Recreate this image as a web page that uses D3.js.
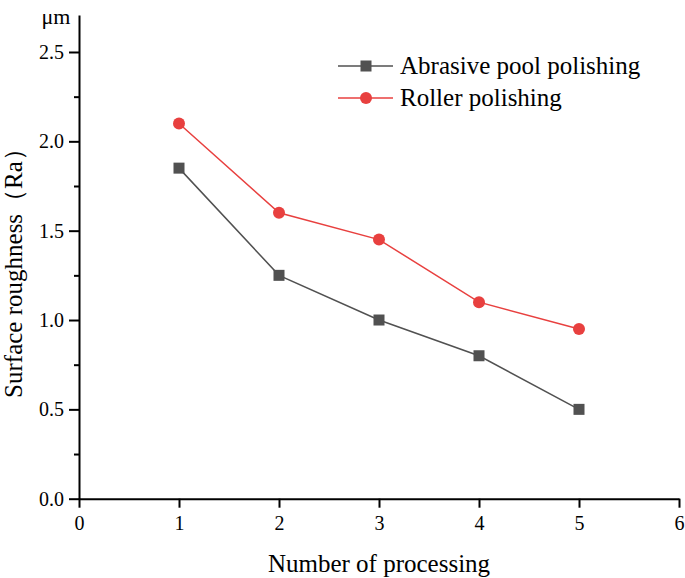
<!DOCTYPE html>
<html><head><meta charset="utf-8">
<script src="https://cdn.jsdelivr.net/npm/d3@7"></script>
<style>body{margin:0;background:#fff}svg{display:block}
svg text{font-family:'Liberation Serif','Times New Roman',serif !important;fill:#000}</style>
</head><body>
<svg id="c" width="685" height="578"></svg>
<script>
const processCounts = [1, 2, 3, 4, 5];
const abrasiveValues = [1.85, 1.25, 1.0, 0.8, 0.5];
const rollerValues = [2.1, 1.6, 1.45, 1.1, 0.95];
const seriesNames = ["Abrasive pool polishing", "Roller polishing"];
const xTicks = [0, 1, 2, 3, 4, 5, 6];
const yTicks = [0, 0.5, 1.0, 1.5, 2.0, 2.5];
const yMinorTicks = [0.25, 0.75, 1.25, 1.75, 2.25];

const svg = d3.select("#c");
const x = d3.scaleLinear().domain([0, 6]).range([79, 679]);
const y = d3.scaleLinear().domain([0, 2.707]).range([498.7, 15]);

const xAxis = svg.append("g").attr("transform", "translate(0,498.7)")
  .call(d3.axisBottom(x).tickValues(xTicks).tickFormat(d3.format("d")).tickSizeInner(9).tickSizeOuter(0));
const yAxis = svg.append("g").attr("transform", "translate(79,0)")
  .call(d3.axisLeft(y).tickValues(yTicks).tickFormat(d3.format(".1f")).tickSizeInner(10).tickSizeOuter(0));
svg.append("g").attr("transform", "translate(79,0)")
  .call(d3.axisLeft(y).tickValues(yMinorTicks).tickFormat("").tickSizeInner(5).tickSizeOuter(0))
  .call(g => g.select(".domain").remove());
svg.selectAll(".domain").attr("stroke", "#000").attr("stroke-width", 2);
svg.selectAll(".tick line").attr("stroke", "#000").attr("stroke-width", 2);
svg.selectAll(".tick text").attr("font-size", 20);
xAxis.selectAll(".tick text").attr("dy", "0.95em");
yAxis.selectAll(".tick text").attr("dx", "-0.1em");

svg.append("text").attr("x", 56).attr("y", 24).attr("text-anchor", "middle")
  .attr("font-size", 22).text("μm");
svg.append("text").attr("x", 379).attr("y", 572).attr("text-anchor", "middle")
  .attr("font-size", 25).text("Number of processing");
svg.append("text").attr("transform", "translate(22,267) rotate(-90)").attr("text-anchor", "middle")
  .attr("font-size", 25).text("Surface roughness（Ra）");

const gray = "#515151", red = "#e8403f";
const line = d3.line().x(d => x(d[0])).y(d => y(d[1]));
const abr = processCounts.map((c, i) => [c, abrasiveValues[i]]);
const rol = processCounts.map((c, i) => [c, rollerValues[i]]);

svg.append("path").datum(abr).attr("d", line).attr("fill", "none").attr("stroke", gray).attr("stroke-width", 1.5);
svg.append("path").datum(rol).attr("d", line).attr("fill", "none").attr("stroke", red).attr("stroke-width", 1.5);
svg.selectAll(".sq").data(abr).join("rect").attr("x", d => x(d[0]) - 5.5).attr("y", d => y(d[1]) - 5.5)
  .attr("width", 11).attr("height", 11).attr("fill", gray);
svg.selectAll(".ci").data(rol).join("circle").attr("cx", d => x(d[0])).attr("cy", d => y(d[1]))
  .attr("r", 6).attr("fill", red);

// legend
const leg = [{name: seriesNames[0], color: gray, shape: "sq", yy: 66},
             {name: seriesNames[1], color: red, shape: "ci", yy: 98}];
leg.forEach(l => {
  svg.append("line").attr("x1", 338).attr("x2", 393).attr("y1", l.yy).attr("y2", l.yy)
    .attr("stroke", l.color).attr("stroke-width", 1.5);
  if (l.shape === "sq") svg.append("rect").attr("x", 366 - 5.5).attr("y", l.yy - 5.5).attr("width", 11).attr("height", 11).attr("fill", l.color);
  else svg.append("circle").attr("cx", 366).attr("cy", l.yy).attr("r", 6).attr("fill", l.color);
  svg.append("text").attr("x", 400).attr("y", l.yy + 8).attr("font-size", 25).text(l.name);
});
</script>
</body></html>
